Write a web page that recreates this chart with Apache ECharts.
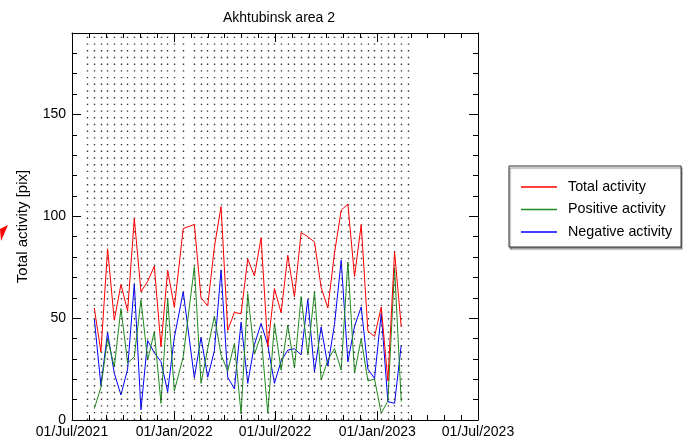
<!DOCTYPE html>
<html>
<head>
<meta charset="utf-8">
<script src="https://cdn.jsdelivr.net/npm/echarts@6/dist/echarts.min.js"></script>
<style>
html,body{margin:0;padding:0;background:#fff;}
#chart{width:683px;height:442px;}
</style>
</head>
<body>
<div id="chart"></div>
<script>
// ---- data ----
var titleText = 'Akhtubinsk area 2';
var seriesNames = ['Total activity', 'Positive activity', 'Negative activity'];
var dates = [
  '2021-08-10','2021-08-22','2021-09-03','2021-09-15','2021-09-27','2021-10-09','2021-10-21',
  '2021-11-02','2021-11-14','2021-11-26','2021-12-08','2021-12-20','2022-01-01','2022-01-17',
  '2022-02-06','2022-02-18','2022-03-02','2022-03-14','2022-03-26','2022-04-07','2022-04-19',
  '2022-05-01','2022-05-13','2022-05-25','2022-06-06','2022-06-18','2022-06-30','2022-07-12',
  '2022-07-24','2022-08-05','2022-08-17','2022-08-29','2022-09-10','2022-09-22','2022-10-04',
  '2022-10-16','2022-10-28','2022-11-09','2022-11-21','2022-12-03','2022-12-15','2022-12-27',
  '2023-01-08','2023-01-20','2023-02-01','2023-02-13'
];
var totalActivity = [
  55, 33.5, 84, 49, 66.5, 53.5, 99, 63, 68, 75.5, 36, 73.5, 55.3, 94,
  96, 60, 56, 85, 104.8, 44, 52.8, 52.2, 79, 70.7, 89.5, 36, 64.5, 52.7,
  80.9, 60.5, 92, 90, 87.4, 65, 55, 82, 103, 106, 70.5, 95.9, 43.7, 41,
  55.5, 19.2, 82.5, 45.7
];
var positiveActivity = [
  5.5, 16, 40, 26, 54.7, 28, 31, 59, 29.4, 43.3, 8.2, 59.6, 14.3, 31,
  75.3, 18, 35, 51, 32, 24, 37.6, 3, 62, 32.3, 41.7, 3.3, 47.4, 24.5,
  46.6, 25.5, 60.6, 32, 62.9, 19.6, 29.4, 35.1, 24.5, 77.6, 23, 40, 19.2, 20,
  3.3, 9.4, 74.8, 9
];
var negativeActivity = [
  50, 17, 43, 23, 12.3, 25, 67, 5, 39, 33, 28.6, 13.9, 40.5, 63,
  20.7, 40.6, 21, 34, 73.7, 21, 15.3, 48, 18, 37, 47.4, 36.8, 18, 29,
  34.3, 35, 32, 59.2, 23.7, 45.7, 26.5, 47, 78.4, 28.6, 46, 55.5, 25, 20.4,
  52.3, 9, 8.2, 36.8
];
var extraGridDates = ['2021-07-29', '2023-02-25'];
var xMinDate = '2021-07-01';
var xMaxDate = '2023-07-01';
var yMin = 0, yMax = 190, yMajor = 50, yMinor = 10;
var monthNames = ['Jan','Feb','Mar','Apr','May','Jun','Jul','Aug','Sep','Oct','Nov','Dec'];

// ---- build chart ----
var DAY = 86400000;
function ts(d){ return Date.parse(d); }
function pairs(vals){ return dates.map(function(d,i){ return [ts(d), vals[i]]; }); }
function fmtDate(v){
  var d = new Date(v);
  var dd = d.getUTCDate();
  return (dd < 10 ? '0' + dd : '' + dd) + '/' + monthNames[d.getUTCMonth()] + '/' + d.getUTCFullYear();
}
var gridDates = [extraGridDates[0]].concat(dates, [extraGridDates[1]]);

var FONT = 'Liberation Sans, Arial, sans-serif';
var black = '#000';

function xAx(pos, showLabel){
  return {
    type: 'time', position: pos,
    min: ts(xMinDate), max: ts(xMaxDate),
    minInterval: DAY * 200, maxInterval: DAY * 200,
    axisLine: {show: true, onZero: false, lineStyle: {color: black, width: 1}},
    axisTick: {show: true, inside: true, length: 9, lineStyle: {color: black}},
    minorTick: {show: true, splitNumber: 6, length: 5, lineStyle: {color: black}},
    splitLine: {show: false},
    axisLabel: {show: showLabel, formatter: fmtDate, fontSize: 14, color: black, fontFamily: FONT, margin: 5, hideOverlap: false, showMinLabel: true, showMaxLabel: true}
  };
}
function yAx(pos, interval, tickLen, showLine, showLabel, withName){
  var a = {
    type: 'value', position: pos, min: yMin, max: yMax, interval: interval,
    axisLine: {show: showLine, onZero: false, lineStyle: {color: black, width: 1}},
    axisTick: {show: true, inside: true, length: tickLen, lineStyle: {color: black}},
    splitLine: {show: false},
    axisLabel: {show: showLabel, fontSize: 14, color: black, fontFamily: FONT, margin: 6, showMaxLabel: false}
  };
  if (withName) {
    a.name = 'Total activity [pix]';
    a.nameLocation = 'middle';
    a.nameGap = 42;
    a.nameTextStyle = {fontSize: 15, color: black, fontFamily: FONT};
  }
  return a;
}

var colors = ['#ff0000', '#1e8c1e', '#0000ff'];
var values = [totalActivity, positiveActivity, negativeActivity];
var series = seriesNames.map(function(n, i){
  return {
    name: n, type: 'line', data: pairs(values[i]),
    xAxisIndex: 0, yAxisIndex: 0,
    showSymbol: false, symbol: 'none',
    lineStyle: {color: colors[i], width: 1},
    itemStyle: {color: colors[i]},
    z: 3 + (2 - i)
  };
});
series.push({
  name: 'grid', type: 'line', data: [], xAxisIndex: 0, yAxisIndex: 0, silent: true, z: 1,
  markLine: {
    silent: true, symbol: ['none','none'], label: {show: false}, animation: false,
    lineStyle: {color: '#333', width: 1.4, type: [1.4, 5.3]},
    emphasis: {disabled: true},
    data: gridDates.map(function(d){ return {xAxis: ts(d)}; })
  }
});

var chart = echarts.init(document.getElementById('chart'), null, {renderer: 'canvas'});
chart.setOption({
  animation: false,
  useUTC: true,
  backgroundColor: '#fff',
  textStyle: {fontFamily: FONT},
  title: {
    text: titleText, left: 218, top: 6,
    textStyle: {fontSize: 14, fontWeight: 'normal', color: black, fontFamily: FONT}
  },
  grid: {left: 72, right: 205, top: 33, bottom: 22, containLabel: false},
  legend: {
    data: seriesNames, orient: 'vertical', left: 509, top: 166,
    icon: 'rect', itemWidth: 36, itemHeight: 1.5, itemGap: 8.5,
    padding: [14, 9, 8, 12],
    borderColor: '#333', borderWidth: 1, backgroundColor: '#fff',
    shadowColor: 'rgba(0,0,0,0.45)', shadowBlur: 1, shadowOffsetX: 1, shadowOffsetY: 2,
    textStyle: {fontSize: 14.3, color: black, fontFamily: FONT, padding: [0, 0, 0, 6]},
    selectedMode: false
  },
  xAxis: [xAx('bottom', true), xAx('top', false)],
  yAxis: [
    yAx('left', yMajor, 9, true, true, true),
    yAx('left', yMinor, 5, false, false, false),
    yAx('right', yMajor, 9, true, false, false),
    yAx('right', yMinor, 5, false, false, false)
  ],
  graphic: [{
    type: 'polygon', shape: {points: [[0, 229], [8, 225], [1, 241]]},
    style: {fill: '#ff0000'}
  }],
  series: series
});
</script>
</body>
</html>
